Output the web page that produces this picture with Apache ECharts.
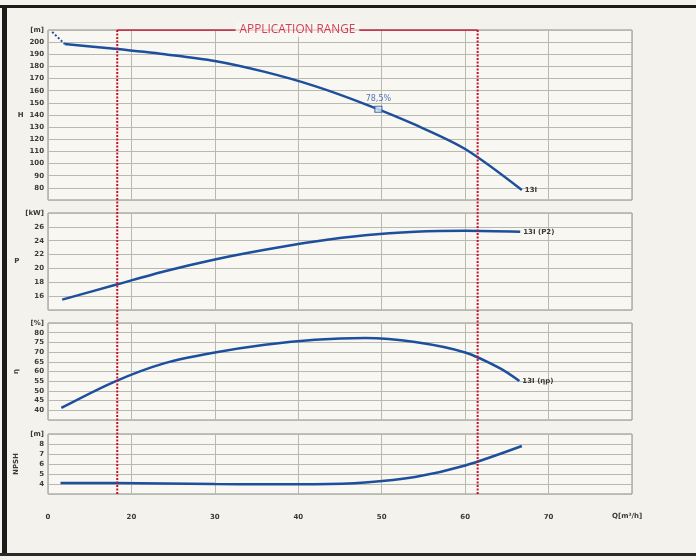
<!DOCTYPE html>
<html><head><meta charset="utf-8">
<script src="https://cdn.jsdelivr.net/npm/echarts@6/dist/echarts.min.js"></script>
<style>html,body{margin:0;padding:0;background:#f3f2ec}#c{width:696px;height:560px}</style>
</head><body><div id="c"></div>
<script>
// ---- data ----
const qTicks = [10, 20, 30, 40, 50, 60, 70, 80];
const qTickLabels = ['0', '20', '30', '40', '50', '60', '70', ''];
const headStart = [[10.5, 208.4], [12, 198.5]];
const headCurve = [[12, 198.5], [18, 194.5], [24, 190], [30, 184.5], [36, 175.5], [42, 163.8], [48, 149], [54, 132], [60, 112], [66.8, 78.2]];
const bestPoint = [[49.6, 144.7]];
const bestLabel = '78,5%';
const powerCurve = [[11.7, 15.5], [18, 17.6], [24, 19.6], [30, 21.3], [36, 22.7], [42, 23.9], [48, 24.8], [54, 25.3], [60, 25.45], [66.6, 25.3]];
const effCurve = [[11.6, 41.2], [18, 54.8], [24, 64.3], [30, 69.8], [36, 73.8], [42, 76.4], [48, 77.3], [54, 75.2], [60, 69.8], [64.2, 61.6], [66.5, 55.1]];
const npshCurve = [[11.5, 4.1], [18, 4.1], [24, 4.05], [30, 4.0], [36, 3.97], [42, 3.98], [48, 4.15], [54, 4.7], [60, 5.85], [66.8, 7.8]];
const appRange = [18.3, 61.5];
const hAxis = {min: 70, max: 210, interval: 10, top: '[m]', hide: [70]};
const pAxis = {min: 14, max: 28, interval: 2, top: '[kW]', hide: [14]};
const eAxis = {min: 35, max: 85, interval: 5, top: '[%]', hide: [35]};
const nAxis = {min: 3, max: 9, interval: 1, top: '[m]', hide: [3]};
const curveNames = ['13I', '13I (P2)', '13I (ηp)'];

// ---- styling ----
const blue = '#1d4f9c', red = '#c8102e', gridC = '#b9b9b4', txt = '#3a3a3a';
const font = 'DejaVu Sans';
const panels = [{top: 30, height: 170}, {top: 213, height: 97}, {top: 323, height: 97}, {top: 434, height: 60}];
const grids = panels.map(p => ({left: 48, right: 64, top: p.top, height: p.height, show: true,
  borderColor: '#8d8d88', borderWidth: 1, backgroundColor: '#f8f7f2'}));
grids.push({left: 48, right: 64, top: 30, height: 464, show: false});

const xAxes = [0, 1, 2, 3, 4].map(i => ({
  type: 'value', gridIndex: i, min: qTicks[0], max: qTicks[qTicks.length - 1], interval: 10,
  axisLine: {show: false}, axisTick: {show: false},
  splitLine: {show: i < 4, lineStyle: {color: gridC, width: 1}},
  axisLabel: {show: i === 3, margin: 20, fontSize: 7, fontWeight: 'bold', fontFamily: font, color: txt,
    formatter: v => { const k = qTicks.indexOf(v); return k >= 0 ? qTickLabels[k] : ''; }}
}));
function yAx(i, a, name) {
  return {type: 'value', gridIndex: i, min: a.min, max: a.max, interval: a.interval,
    name: name, nameLocation: 'middle', nameGap: 21, nameRotate: name.length > 1 || name === 'η' ? 90 : 0,
    nameTextStyle: {fontSize: 7, fontWeight: 'bold', color: txt, fontFamily: font},
    axisLine: {show: false}, axisTick: {show: false},
    splitLine: {show: true, lineStyle: {color: gridC, width: 1}},
    axisLabel: {margin: 4, fontSize: 7, fontWeight: 'bold', fontFamily: font, color: txt,
      formatter: v => v === a.max ? a.top : (a.hide.indexOf(v) >= 0 ? '' : String(v))}};
}
const yAxes = [yAx(0, hAxis, 'H'), yAx(1, pAxis, 'P'), yAx(2, eAxis, 'η'), yAx(3, nAxis, 'NPSH'),
  {type: 'value', gridIndex: 4, min: 0, max: 1, show: false}];

function curve(i, data, endName) {
  return {type: 'line', xAxisIndex: i, yAxisIndex: i, data: data, smooth: 0.3, symbol: 'none',
    lineStyle: {color: blue, width: 2.5}, z: 5,
    endLabel: endName ? {show: true, formatter: endName, fontSize: 7, fontWeight: 'bold', color: txt, fontFamily: font, distance: 3} : undefined};
}
const series = [
  {type: 'line', xAxisIndex: 0, yAxisIndex: 0, data: headStart, symbol: 'none',
    lineStyle: {color: blue, width: 2, type: [2, 2]}},
  curve(0, headCurve, curveNames[0]),
  {type: 'scatter', xAxisIndex: 0, yAxisIndex: 0, data: bestPoint, symbol: 'rect', symbolSize: [7, 6], z: 6,
    itemStyle: {color: '#dde6f3', borderColor: blue, borderWidth: 1},
    label: {show: true, position: 'top', distance: 3, formatter: bestLabel, fontSize: 8, color: '#2756a8', fontFamily: font}},
  curve(1, powerCurve, curveNames[1]),
  curve(2, effCurve, curveNames[2]),
  curve(3, npshCurve, null),
  {type: 'line', xAxisIndex: 4, yAxisIndex: 4, data: [[appRange[0], 0], [appRange[0], 1]], symbol: 'none', z: 8,
    lineStyle: {color: red, width: 2, type: [2, 1.5]}},
  {type: 'line', xAxisIndex: 4, yAxisIndex: 4, data: [[appRange[1], 0], [appRange[1], 1]], symbol: 'none', z: 8,
    lineStyle: {color: red, width: 2, type: [2, 1.5]}},
  {type: 'line', xAxisIndex: 4, yAxisIndex: 4, data: [[appRange[0], 1], [appRange[1], 1]], symbol: 'none', z: 8,
    lineStyle: {color: red, width: 1.5}},
  {type: 'scatter', xAxisIndex: 4, yAxisIndex: 4, data: [[(appRange[0] + appRange[1]) / 2, 1]], symbolSize: 0, z: 9,
    label: {show: true, position: 'inside', formatter: 'APPLICATION RANGE', color: red, fontSize: 11.8,
      fontFamily: 'Open Sans', backgroundColor: '#f8f7f2', padding: [1, 4]}}
];

const chart = echarts.init(document.getElementById('c'), null, {renderer: 'canvas'});
chart.setOption({
  backgroundColor: '#f3f2ec', animation: false,
  grid: grids, xAxis: xAxes, yAxis: yAxes, series: series,
  graphic: [
    {type: 'rect', shape: {x: 0, y: 5, width: 696, height: 3}, style: {fill: '#1b1b1b'}},
    {type: 'rect', shape: {x: 2, y: 5, width: 5, height: 550}, style: {fill: '#1b1b1b'}},
    {type: 'rect', shape: {x: 0, y: 553, width: 696, height: 3}, style: {fill: '#2a2a2a'}},
    {type: 'text', left: 612, top: 513, style: {text: 'Q[m³/h]', fontSize: 7, fontWeight: 'bold', fill: txt, fontFamily: font}}
  ]
});
</script></body></html>
